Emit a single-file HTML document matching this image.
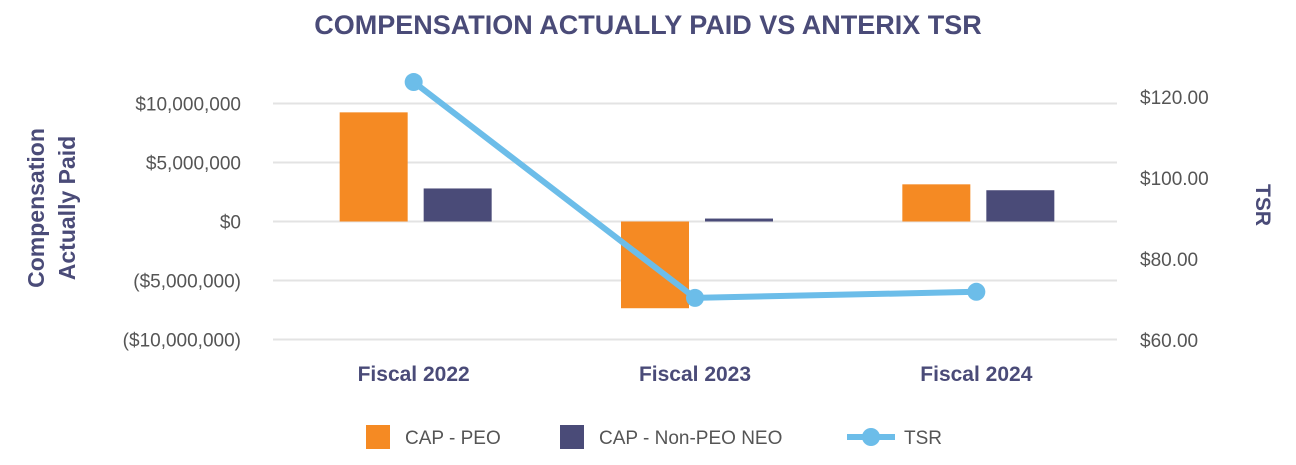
<!DOCTYPE html>
<html><head><meta charset="utf-8"><style>
body{margin:0;background:#fff;}
svg text{font-family:"Liberation Sans",sans-serif;}
</style></head><body>
<svg width="1296" height="460" xmlns="http://www.w3.org/2000/svg">
<text x="648" y="34" text-anchor="middle" font-size="27" font-weight="bold" fill="#4a4b78">COMPENSATION ACTUALLY PAID VS ANTERIX TSR</text>
<g id="grid"></g><g id="bars"></g><g id="line"></g><g id="labels"></g>
<text transform="translate(44,208) rotate(-90)" text-anchor="middle" font-size="23" font-weight="bold" fill="#4a4b78"><tspan x="0" dy="0">Compensation</tspan><tspan x="0" dy="31">Actually Paid</tspan></text>
<text transform="translate(1256,205) rotate(90)" text-anchor="middle" font-size="21" font-weight="bold" fill="#4a4b78">TSR</text>
<g>
<rect x="366" y="425" width="24" height="24" fill="#f58a23"/>
<text x="405" y="444" font-size="19" fill="#555">CAP - PEO</text>
<rect x="560" y="425" width="24" height="24" fill="#4a4b78"/>
<text x="599" y="444" font-size="19" fill="#555">CAP - Non-PEO NEO</text>
<line x1="847" y1="437" x2="895" y2="437" stroke="#6cbde9" stroke-width="6"/>
<circle cx="871" cy="437" r="9" fill="#6cbde9"/>
<text x="904" y="444" font-size="19" fill="#555">TSR</text>
</g>
</svg>
<script>
const categories=["Fiscal 2022","Fiscal 2023","Fiscal 2024"];
const capPeo=[9250000,-7350000,3150000];
const capNonPeo=[2800000,250000,2650000];
const tsr=[123.7,70.4,71.9];
const leftTicks=[10000000,5000000,0,-5000000,-10000000];
const leftTickLabels=["$10,000,000","$5,000,000","$0","($5,000,000)","($10,000,000)"];
const rightTicks=[120,100,80,60];
const rightTickLabels=["$120.00","$100.00","$80.00","$60.00"];
const NS="http://www.w3.org/2000/svg";
const x0=273,x1=1117;
const yL=v=>221.5-v/5000000*59;
const yR=v=>340-(v-60)/20*81;
const catW=(x1-x0)/categories.length;
const cx=i=>x0+catW*(i+0.5);
function mk(tag,attrs,parent){const e=document.createElementNS(NS,tag);for(const k in attrs)e.setAttribute(k,attrs[k]);document.getElementById(parent).appendChild(e);return e;}
leftTicks.forEach((t,i)=>{
 const l=mk('line',{x1:x0,x2:x1,y1:yL(t),y2:yL(t),stroke:'#e3e3e3','stroke-width':2},'grid');
 
 
 const tx=mk('text',{x:241,y:yL(t)+7,'text-anchor':'end','font-size':19,fill:'#555'},'labels');
 tx.textContent=leftTickLabels[i];
 
 
});
rightTicks.forEach((t,i)=>{
 const tx=mk('text',{x:1140,y:yR(t)+7,'font-size':19,fill:'#555'},'labels');
 tx.textContent=rightTickLabels[i];
 
 
});
const bw=68;
categories.forEach((c,i)=>{
 const a=mk('rect',{x:cx(i)-74,width:bw,y:Math.min(yL(0),yL(capPeo[i])),height:Math.abs(yL(capPeo[i])-yL(0)),fill:'#f58a23'},'bars');
 
 
 const b=mk('rect',{x:cx(i)+10,width:bw,y:Math.min(yL(0),yL(capNonPeo[i])),height:Math.abs(yL(capNonPeo[i])-yL(0)),fill:'#4a4b78'},'bars');
 
 
 const tx=mk('text',{x:cx(i),y:381,'text-anchor':'middle','font-size':21,'font-weight':'bold',fill:'#4a4b78'},'labels');
 tx.textContent=c;
 
 
});
const pts=tsr.map((v,i)=>cx(i)+','+yR(v)).join(' ');
const pl=mk('polyline',{points:pts,fill:'none',stroke:'#6cbde9','stroke-width':6},'line');


tsr.forEach((v,i)=>{
 const c=mk('circle',{cx:cx(i),cy:yR(v),r:9,fill:'#6cbde9'},'line');
 
 
});
</script>
</body></html>
